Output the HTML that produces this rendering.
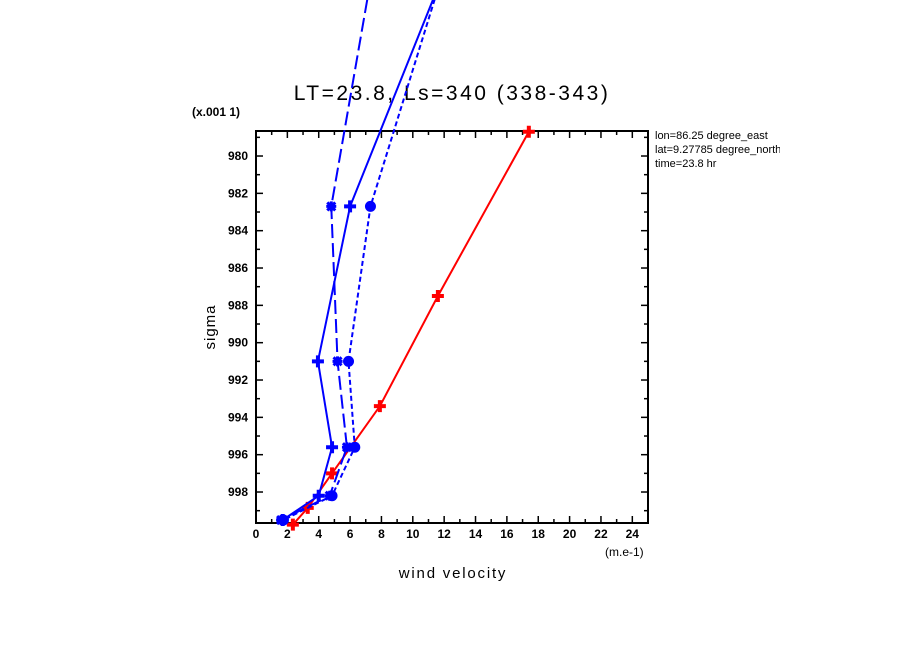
<!DOCTYPE html>
<html><head><meta charset="utf-8"><style>
body{margin:0;background:#fff;}
svg{display:block;font-family:"Liberation Sans",sans-serif;}
</style></head><body>
<svg id="chart" width="904" height="654" viewBox="0 0 904 654">
<defs><clipPath id="rc"><rect x="0" y="0" width="780" height="654"/></clipPath></defs>
<text x="452" y="100" font-size="21" letter-spacing="2.5" text-anchor="middle">LT=23.8, Ls=340 (338-343)</text>
<text x="192" y="116" font-size="12" font-weight="bold">(x.001 1)</text>
<text x="215" y="327" font-size="15" letter-spacing="1" text-anchor="middle" transform="rotate(-90 215 327)">sigma</text>
<text x="453" y="578" font-size="15" letter-spacing="1.8" text-anchor="middle">wind velocity</text>
<text x="605" y="556" font-size="12">(m.e-1)</text>
<g clip-path="url(#rc)" font-size="11">
<text x="655" y="139">lon=86.25 degree_east</text>
<text x="655" y="153">lat=9.27785 degree_north</text>
<text x="655" y="167">time=23.8 hr</text>
</g>
<g id="axes"></g>
<g id="series"></g>
</svg>
<script>
const xTicks=[0,2,4,6,8,10,12,14,16,18,20,22,24];
const yTicks=[980,982,984,986,988,990,992,994,996,998];
const redX=[17.4,11.6,7.9,4.85,3.3,2.35];
const redY=[978.7,987.5,993.4,997.0,998.85,999.75];
const solidX=[11.3,6.0,3.95,4.85,4.0,1.7];
const solidY=[971.6,982.7,991.0,995.6,998.2,999.5];
const longDashX=[7.1,4.8,5.2,5.8,4.7,1.6];
const longDashY=[971.6,982.7,991.0,995.6,998.2,999.5];
const shortDashX=[11.4,7.3,5.9,6.3,4.85,1.75];
const shortDashY=[971.6,982.7,991.0,995.6,998.2,999.5];

const X0=256,X1=648,Y0=131,Y1=523;
const xMin=0,xMax=25,yMin=978.66,yMax=999.66;
const sx=v=>X0+(v-xMin)/(xMax-xMin)*(X1-X0);
const sy=v=>Y0+(v-yMin)/(yMax-yMin)*(Y1-Y0);
const NS="http://www.w3.org/2000/svg";
function mk(tag,attrs,parent){const e=document.createElementNS(NS,tag);for(const k in attrs)e.setAttribute(k,attrs[k]);parent.appendChild(e);return e;}
const ax=document.getElementById('axes');
const frame=mk('rect',{x:X0,y:Y0,width:X1-X0,height:Y1-Y0,fill:'none',stroke:'#000','stroke-width':2},ax);


for(let v=0;v<=25;v++){const x=sx(v),L=v%2==0?7:4;
 mk('line',{x1:x,y1:Y1,x2:x,y2:Y1-L,stroke:'#000','stroke-width':1.5},ax);
 mk('line',{x1:x,y1:Y0,x2:x,y2:Y0+L,stroke:'#000','stroke-width':1.5},ax);}
for(let v=979;v<=999;v++){const y=sy(v),L=v%2==0?7:4;
 mk('line',{x1:X0,y1:y,x2:X0+L,y2:y,stroke:'#000','stroke-width':1.5},ax);
 mk('line',{x1:X1,y1:y,x2:X1-L,y2:y,stroke:'#000','stroke-width':1.5},ax);}
xTicks.forEach(v=>{const t=mk('text',{x:sx(v),y:Y1+15,'font-size':12,'font-weight':'bold','text-anchor':'middle'},ax);t.textContent=v;
 
 });
yTicks.forEach(v=>{const t=mk('text',{x:X0-8,y:sy(v)+4,'font-size':12,'font-weight':'bold','text-anchor':'end'},ax);t.textContent=v;
 
 });
const sg=document.getElementById('series');
function series(xs,ys,color,dash,marker,name){
 const g=mk('g',{},sg);
 
 
 const pts=xs.map((v,i)=>sx(v)+','+sy(ys[i])).join(' ');
 mk('polyline',{points:pts,fill:'none',stroke:color,'stroke-width':2,'stroke-dasharray':dash},g);
 xs.forEach((v,i)=>{if(ys[i]<yMin)return;const x=sx(v),y=sy(ys[i]);
  let m;
  if(marker=='circle'){m=mk('circle',{cx:x,cy:y,r:5.5,fill:color},g);}
  else if(marker=='star'){m=mk('path',{d:`M${x-5},${y}h10M${x},${y-5}v10M${x-4},${y-4}l8,8M${x+4},${y-4}l-8,8`,stroke:color,'stroke-width':3},g);}
  else{m=mk('path',{d:`M${x-6},${y}h12M${x},${y-6}v12`,stroke:color,'stroke-width':4},g);}
  
  });
}
series(redX,redY,'#ff0000','none','plus','red-series');
series(solidX,solidY,'#0000ff','none','plus','blue-solid-series');
series(longDashX,longDashY,'#0000ff','14 5','star','blue-long-dash-series');
series(shortDashX,shortDashY,'#0000ff','5 3','circle','blue-short-dash-series');
</script>
</body></html>
